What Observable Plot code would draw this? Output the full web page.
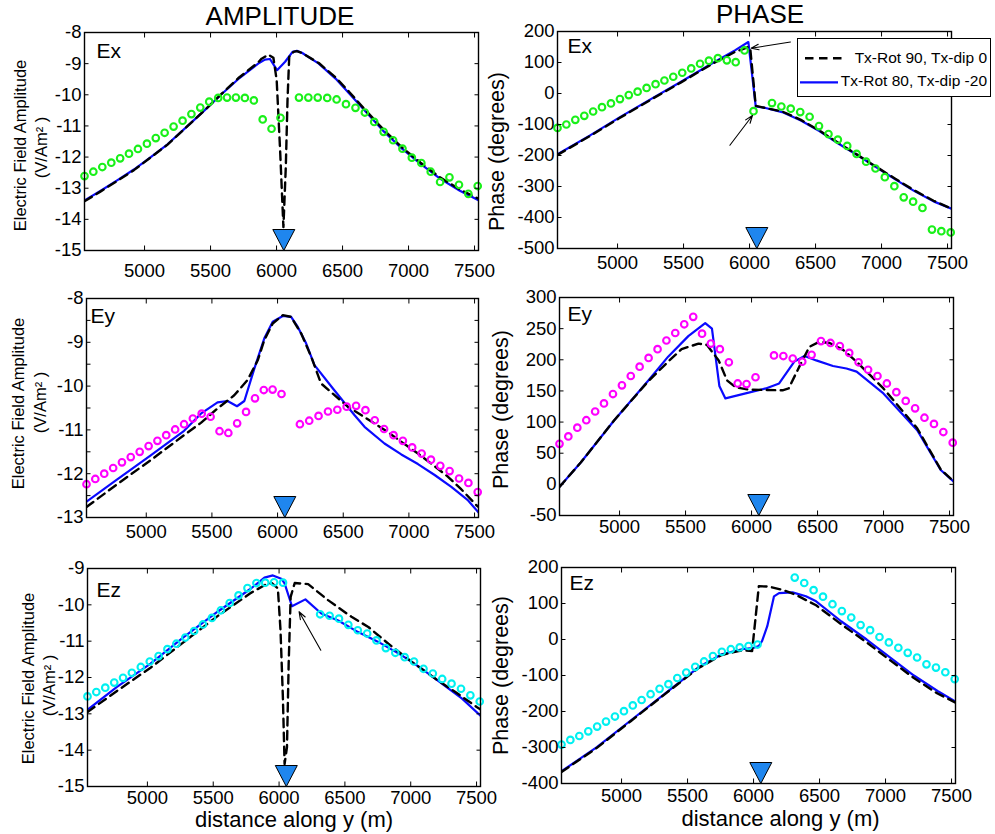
<!DOCTYPE html>
<html><head><meta charset="utf-8">
<script src="https://cdn.jsdelivr.net/npm/d3@7"></script>
<script src="https://cdn.jsdelivr.net/npm/@observablehq/plot@0.6"></script>
<style>
body{margin:0;background:#fff;}
#root{position:relative;width:995px;height:834px;font-family:"Liberation Sans",Arial,Helvetica,sans-serif;color:#000;overflow:hidden;}
</style></head><body><div id="root"></div>
<script>
// ---------- data ----------
const xDomain = [4545, 7530];
const xTicks = [5000, 5500, 6000, 6500, 7000, 7500];
const sourceX = [6055];
const stations = [4545, 4612, 4680, 4748, 4815, 4882, 4950, 5018, 5085, 5152, 5220, 5288, 5355, 5422, 5490, 5558, 5625, 5692, 5760, 5828, 5895, 5962, 6030,
  6170, 6241, 6312, 6384, 6455, 6526, 6598, 6669, 6740, 6811, 6883, 6954, 7025, 7097, 7168, 7239, 7310, 7382, 7453, 7524];

const ampTicksEx = [-15, -14, -13, -12, -11, -10, -9, -8];
const ampTicksEy = [-13, -12, -11, -10, -9, -8];
const ampMinorEy = [-12.5, -11.5, -10.5, -9.5, -8.5];
const ampTicksEz = [-15, -14, -13, -12, -11, -10, -9];
const phsTicksEx = [-500, -400, -300, -200, -100, 0, 100, 200];
const phsTicksEy = [-50, 0, 50, 100, 150, 200, 250, 300];
const phsTicksEz = [-400, -300, -200, -100, 0, 100, 200];

const seriesNames = ["Tx-Rot 90, Tx-dip 0", "Tx-Rot 80, Tx-dip -20"];

// Ex amplitude
const exAmpObs = [-12.61, -12.47, -12.32, -12.18, -12.04, -11.89, -11.74, -11.57, -11.39, -11.22, -11.02, -10.83, -10.62, -10.41, -10.22, -10.10, -10.09, -10.09, -10.10, -10.18, -10.79, -11.09, -10.74,
  -10.09, -10.09, -10.09, -10.10, -10.15, -10.30, -10.42, -10.57, -10.87, -11.19, -11.46, -11.73, -12.02, -12.19, -12.47, -12.80, -12.65, -12.89, -13.18, -12.93];
const exAmpBlueX = [4545, 4665, 4792, 4919, 5047, 5174, 5327, 5454, 5581, 5709, 5861, 5912, 5950, 6004, 6065, 6121, 6154, 6192, 6320, 6447, 6549, 6666, 6806, 6948, 7091, 7241, 7389, 7560];
const exAmpBlueY = [-13.39, -13.09, -12.75, -12.40, -12.0, -11.59, -11.0, -10.50, -9.99, -9.50, -9.0, -8.87, -8.85, -9.21, -8.94, -8.62, -8.59, -8.65, -9.0, -9.48, -9.95, -10.5, -11.15, -11.72, -12.22, -12.70, -13.08, -13.45];
const exAmpDashX = [4545, 4665, 4792, 4919, 5047, 5174, 5327, 5454, 5581, 5709, 5861, 5887, 5938, 5976, 6001, 6027, 6052, 6070, 6083, 6096, 6129, 6154, 6192, 6320, 6447, 6549, 6666, 6806, 6948, 7091, 7241, 7389, 7560];
const exAmpDashY = [-13.42, -13.11, -12.77, -12.42, -12.01, -11.60, -11.0, -10.5, -9.98, -9.47, -8.96, -8.84, -8.71, -8.81, -9.53, -11.78, -14.25, -12.32, -10.18, -8.78, -8.62, -8.60, -8.66, -8.98, -9.44, -9.90, -10.46, -11.10, -11.68, -12.18, -12.66, -13.04, -13.40];

// Ex phase
const exPhsObs = [-111, -100, -85, -72, -58, -44, -32, -18, -5, 6, 18, 30, 42, 54, 67, 81, 96, 106, 114, 107, 101, 139, -57,
  -31, -42, -49, -60, -75, -105, -131, -149, -169, -195, -220, -242, -270, -299, -335, -349, -369, -439, -444, -448];
const exPhsBlueX = [4545, 4792, 5012, 5252, 5481, 5711, 5889, 5991, 6047, 6114, 6247, 6389, 6532, 6675, 6818, 6958, 7104, 7246, 7394, 7560];
const exPhsBlueY = [-196, -135, -78, -18, 38, 96, 139, 166, -42, -46, -60, -87, -122, -162, -199, -237, -277, -314, -348, -377];
const exPhsDashX = [4545, 4792, 5012, 5252, 5481, 5711, 5889, 5991, 6005, 6047, 6090, 6247, 6389, 6532, 6675, 6818, 6958, 7104, 7246, 7394, 7560];
const exPhsDashY = [-198, -137, -80, -20, 36, 94, 134, 150, 147, -40, -44, -58, -85, -120, -160, -198, -236, -275, -312, -346, -377];
const exPhsArrows = [
  {x1: 6310, y1: 166, x2: 6012, y2: 146},
  {x1: 5851, y1: -167, x2: 6022, y2: -71}
];

// Ey amplitude
const eyAmpObs = [-12.24, -12.12, -12.00, -11.87, -11.74, -11.62, -11.50, -11.37, -11.25, -11.12, -10.99, -10.87, -10.74, -10.63, -10.70, -11.03, -11.07, -10.85, -10.59, -10.28, -10.09, -10.08, -10.18,
  -10.87, -10.79, -10.68, -10.58, -10.54, -10.47, -10.45, -10.55, -10.78, -10.98, -11.12, -11.25, -11.40, -11.54, -11.68, -11.82, -11.94, -12.11, -12.21, -12.42];
const eyAmpBlueX = [4545, 4779, 5034, 5288, 5416, 5543, 5619, 5691, 5747, 5823, 5899, 5963, 6040, 6103, 6154, 6218, 6281, 6420, 6509, 6585, 6662, 6814, 6942, 7069, 7196, 7323, 7451, 7540];
const eyAmpBlueY = [-12.64, -12.13, -11.58, -11.02, -10.63, -10.37, -10.34, -10.46, -10.34, -9.60, -8.91, -8.53, -8.40, -8.42, -8.65, -9.03, -9.52, -10.05, -10.38, -10.66, -10.93, -11.31, -11.56, -11.78, -12.03, -12.30, -12.61, -12.92];
const eyAmpDashX = [4545, 4779, 5034, 5288, 5416, 5543, 5670, 5772, 5849, 5899, 5963, 6040, 6103, 6180, 6256, 6331, 6535, 6726, 6840, 6942, 7069, 7196, 7298, 7400, 7514, 7560];
const eyAmpDashY = [-12.76, -12.24, -11.69, -11.12, -10.84, -10.51, -10.21, -9.86, -9.41, -8.95, -8.57, -8.38, -8.42, -8.80, -9.33, -9.94, -10.47, -10.83, -11.05, -11.27, -11.54, -11.83, -12.07, -12.36, -12.72, -12.83];

// Ey phase
const eyPhsObs = [65, 77, 91, 103, 117, 130, 145, 159, 174, 189, 203, 217, 231, 243, 257, 269, 242, 226, 217, 196, 162, 161, 172,
  207, 206, 202, 197, 208, 230, 227, 222, 211, 196, 184, 174, 162, 148, 134, 122, 107, 97, 84, 67];
const eyPhsBlueX = [4545, 4706, 4960, 5215, 5368, 5521, 5649, 5700, 5756, 5802, 5955, 6108, 6209, 6324, 6401, 6490, 6617, 6719, 6796, 6999, 7255, 7433, 7560];
const eyPhsBlueY = [-4, 35, 103, 166, 205, 238, 259, 250, 158, 138, 146, 154, 162, 197, 206, 199, 190, 186, 181, 146, 87, 23, -1];
const eyPhsDashX = [4545, 4706, 4960, 5215, 5368, 5470, 5598, 5661, 5751, 5814, 5878, 5980, 6235, 6281, 6362, 6439, 6515, 6592, 6694, 6796, 6999, 7255, 7433, 7560];
const eyPhsDashY = [-4, 35, 103, 165, 197, 217, 226, 224, 199, 167, 156, 152, 151, 154, 189, 221, 229, 227, 216, 197, 154, 90, 24, -1];

// Ez amplitude
const ezAmpObs = [-12.52, -12.40, -12.28, -12.14, -12.01, -11.87, -11.71, -11.56, -11.41, -11.22, -11.07, -10.90, -10.72, -10.54, -10.36, -10.15, -9.95, -9.74, -9.54, -9.40, -9.39, -9.38, -9.39,
  null, null, -10.26, -10.30, -10.38, -10.55, -10.70, -10.79, -10.98, -11.19, -11.32, -11.44, -11.56, -11.76, -11.89, -12.04, -12.17, -12.31, -12.49, -12.66];
const ezAmpBlueX = [4545, 4769, 5024, 5278, 5533, 5787, 5889, 5953, 6017, 6042, 6098, 6200, 6321, 6449, 6601, 6754, 6932, 7085, 7237, 7390, 7542];
const ezAmpBlueY = [-12.89, -12.26, -11.62, -10.88, -10.19, -9.55, -9.25, -9.19, -9.28, -9.41, -10.04, -9.85, -10.24, -10.43, -10.75, -11.02, -11.39, -11.76, -12.17, -12.58, -13.09];
const ezAmpDashX = [4545, 4769, 5024, 5278, 5533, 5787, 5889, 5945, 5991, 6011, 6029, 6042, 6060, 6073, 6088, 6119, 6221, 6372, 6550, 6678, 6830, 7008, 7186, 7339, 7504, 7560];
const ezAmpDashY = [-12.95, -12.37, -11.73, -11.02, -10.31, -9.67, -9.46, -9.40, -9.55, -10.70, -12.54, -14.38, -13.92, -11.62, -9.78, -9.40, -9.43, -9.87, -10.33, -10.61, -11.07, -11.57, -12.03, -12.40, -12.82, -12.95];
const ezAmpArrows = [{x1: 6317, y1: -11.25, x2: 6152, y2: -10.19}];

// Ez phase
const ezPhsObs = [-292, -279, -268, -255, -242, -228, -214, -199, -183, -168, -152, -137, -124, -107, -92, -76, -61, -46, -34, -27, -22, -18, -14,
  null, null, 172, 157, 137, 119, 98, 79, 61, 40, 26, 7, -8, -23, -37, -50, -69, -78, -91, -110];
const ezPhsBlueX = [4545, 4813, 5069, 5324, 5580, 5759, 5912, 6001, 6040, 6065, 6104, 6155, 6193, 6295, 6397, 6474, 6666, 6857, 7036, 7215, 7394, 7560];
const ezPhsBlueY = [-366, -299, -225, -152, -78, -41, -27, -23, -18, -4, 37, 120, 129, 131, 120, 106, 50, 0, -50, -100, -143, -179];
const ezPhsDashX = [4545, 4813, 5069, 5324, 5580, 5759, 5912, 5989, 6040, 6116, 6218, 6321, 6474, 6666, 6857, 7036, 7215, 7394, 7560];
const ezPhsDashY = [-368, -301, -227, -153, -80, -43, -30, -32, 148, 147, 138, 124, 95, 42, -8, -58, -107, -150, -181];

// ---------- drawing ----------
const FONT = '"Liberation Sans", Arial, Helvetica, sans-serif';
const BLUE = "#0a0aff";
const root = document.getElementById("root");

function pts(xs, ys) { return xs.map((x, i) => ({x, y: ys[i]})).filter(d => d.y != null); }

const invTri = {draw(ctx) { ctx.moveTo(0, 0); ctx.lineTo(-11, -21); ctx.lineTo(11, -21); ctx.closePath(); }};

function makePanel(c) {
  const mL = 85, mR = 20, mT = 10, mB = 52;
  const ymin = c.yTicks[0], ymax = c.yTicks[c.yTicks.length - 1];
  const marks = [
    Plot.line(pts(c.blueX, c.blueY), {x: "x", y: "y", stroke: BLUE, strokeWidth: 2.2, strokeLinejoin: "round", clip: true}),
    Plot.line(pts(c.dashX, c.dashY), {x: "x", y: "y", stroke: "#000", strokeWidth: 2.4, strokeDasharray: "8.5,5.5", clip: true}),
    Plot.dot(pts(stations, c.obs), {x: "x", y: "y", r: 3.3, stroke: c.color, strokeWidth: 2.1, fill: "none"}),
    Plot.frame({stroke: "#000", strokeWidth: 1.4}),
    Plot.axisX(xTicks, {anchor: "bottom", tickSize: -4.5, tickPadding: 4.5 + c.xGap, tickFormat: d => String(d), label: null, fontSize: 18.5}),
    Plot.axisX(xTicks, {anchor: "top", tickSize: -4.5, fill: "none", label: null}),
    Plot.axisY(c.yTicks, {anchor: "left", tickSize: -4.5, tickPadding: 7.5, tickFormat: d => String(d), label: null, fontSize: 18.5}),
    Plot.axisY(c.yTicks, {anchor: "right", tickSize: -4.5, fill: "none", label: null}),
    Plot.dot(sourceX.map(x => ({x, y: ymin})), {x: "x", y: "y", symbol: invTri, fill: "#1f86ee", stroke: "#000", strokeWidth: 1}),
    Plot.text([c.name], {text: d => d, frameAnchor: "top-left", dx: c.nameDx, dy: c.nameDy, textAnchor: "start", lineAnchor: "top", fontSize: 21})
  ];
  if (c.minor) {
    marks.push(Plot.axisY(c.minor, {anchor: "left", tickSize: -4.5, fill: "none", label: null}));
    marks.push(Plot.axisY(c.minor, {anchor: "right", tickSize: -4.5, fill: "none", label: null}));
  }
  for (const yl of c.ylabels) {
    marks.push(Plot.text([yl.t], {text: d => d, frameAnchor: "left", dx: yl.dx, dy: yl.dy, rotate: -90, textAnchor: "middle", lineAnchor: "bottom", fontSize: yl.fs}));
  }
  if (c.xlabel) {
    marks.push(Plot.text([c.xlabel.t], {text: d => d, frameAnchor: "bottom", dx: c.xlabel.dx, dy: c.xlabel.dy, textAnchor: "middle", lineAnchor: "bottom", fontSize: 22}));
  }
  if (c.arrows) {
    marks.push(Plot.arrow(c.arrows, {x1: "x1", y1: "y1", x2: "x2", y2: "y2", stroke: "#000", strokeWidth: 1.1, headLength: 11, headAngle: 40}));
  }
  const chart = Plot.plot({
    width: mL + c.w + mR, height: mT + c.h + mB,
    marginLeft: mL, marginRight: mR, marginTop: mT, marginBottom: mB,
    style: {fontFamily: FONT, fontSize: "18.5px", color: "#000", background: "transparent", overflow: "visible"},
    x: {domain: xDomain},
    y: {domain: [ymin, ymax]},
    marks
  });
  chart.style.position = "absolute";
  chart.style.left = (c.left - mL) + "px";
  chart.style.top = (c.top - mT) + "px";
  root.appendChild(chart);
}

const ampLabel = "Electric Field Amplitude";
const unitLabel = "(V/Am\u00B2 )";
const phsLabel = "Phase (degrees)";
const xLabel = "distance along y (m)";

makePanel({left: 84, top: 32, w: 394, h: 218, yTicks: ampTicksEx, name: "Ex", nameDx: 12, nameDy: 11, xGap: 13,
  blueX: exAmpBlueX, blueY: exAmpBlueY, dashX: exAmpDashX, dashY: exAmpDashY, obs: exAmpObs, color: "#19f019",
  ylabels: [{t: ampLabel, dx: -59, dy: 4, fs: 16.5}, {t: unitLabel, dx: -37.5, dy: 6, fs: 16.5}]});
makePanel({left: 557, top: 31, w: 394, h: 217, yTicks: phsTicksEx, name: "Ex", nameDx: 10, nameDy: 7, xGap: 7,
  blueX: exPhsBlueX, blueY: exPhsBlueY, dashX: exPhsDashX, dashY: exPhsDashY, obs: exPhsObs, color: "#19f019",
  ylabels: [{t: phsLabel, dx: -53.5, dy: 11.5, fs: 21.5}], arrows: exPhsArrows});
makePanel({left: 86, top: 298, w: 392, h: 219, yTicks: ampTicksEy, minor: ampMinorEy, name: "Ey", nameDx: 4, nameDy: 10, xGap: 7,
  blueX: eyAmpBlueX, blueY: eyAmpBlueY, dashX: eyAmpDashX, dashY: eyAmpDashY, obs: eyAmpObs, color: "#ff00ff",
  ylabels: [{t: ampLabel, dx: -62.7, dy: -4.5, fs: 16.5}, {t: unitLabel, dx: -40.3, dy: -5.5, fs: 16.5}]});
makePanel({left: 559, top: 297, w: 394, h: 218, yTicks: phsTicksEy, name: "Ey", nameDx: 8, nameDy: 9, xGap: 4,
  blueX: eyPhsBlueX, blueY: eyPhsBlueY, dashX: eyPhsDashX, dashY: eyPhsDashY, obs: eyPhsObs, color: "#ff00ff",
  ylabels: [{t: phsLabel, dx: -51.7, dy: 3, fs: 21.5}]});
makePanel({left: 87, top: 568, w: 393, h: 218, yTicks: ampTicksEz, name: "Ez", nameDx: 9, nameDy: 14, xGap: 4,
  blueX: ezAmpBlueX, blueY: ezAmpBlueY, dashX: ezAmpDashX, dashY: ezAmpDashY, obs: ezAmpObs, color: "#00f0f0",
  ylabels: [{t: ampLabel, dx: -53.7, dy: 1, fs: 16.5}, {t: unitLabel, dx: -33, dy: 8, fs: 16.5}],
  xlabel: {t: xLabel, dx: 10, dy: 40}, arrows: ezAmpArrows});
makePanel({left: 561, top: 567, w: 394, h: 216, yTicks: phsTicksEz, name: "Ez", nameDx: 8, nameDy: 8, xGap: 5,
  blueX: ezPhsBlueX, blueY: ezPhsBlueY, dashX: ezPhsDashX, dashY: ezPhsDashY, obs: ezPhsObs, color: "#00f0f0",
  ylabels: [{t: phsLabel, dx: -53.7, dy: 0, fs: 21.5}],
  xlabel: {t: xLabel, dx: 22, dy: 42}});

// titles
function addText(str, x, baseline, fs, anchor) {
  const el = document.createElement("div");
  el.textContent = str;
  const tx = anchor === "middle" ? "-50%" : anchor === "end" ? "-100%" : "0";
  el.style.cssText = `position:absolute;left:${x}px;top:${baseline - fs * 0.8465}px;font-size:${fs}px;line-height:1;white-space:nowrap;transform:translateX(${tx});`;
  root.appendChild(el);
  return el;
}
addText("AMPLITUDE", 280, 25, 26, "middle");
addText("PHASE", 760, 23.5, 26, "middle");

// legend
const leg = document.createElement("div");
leg.style.cssText = "position:absolute;left:797px;top:38px;width:192px;height:57px;border:1.3px solid #000;background:#fff;";
root.appendChild(leg);
const sw = document.createElementNS("http://www.w3.org/2000/svg", "svg");
sw.setAttribute("width", "60"); sw.setAttribute("height", "60");
sw.style.cssText = "position:absolute;left:797px;top:38px;overflow:visible;";
sw.innerHTML = '<line x1="8" y1="20.3" x2="45" y2="20.3" stroke="#000" stroke-width="2.4" stroke-dasharray="8.5,5.5"/>' +
  '<line x1="3" y1="44.3" x2="41" y2="44.3" stroke="' + BLUE + '" stroke-width="2.2"/>';
root.appendChild(sw);
addText(seriesNames[0], 987, 63.5, 15.5, "end");
addText(seriesNames[1], 987, 86.5, 15.5, "end");
</script></body></html>
